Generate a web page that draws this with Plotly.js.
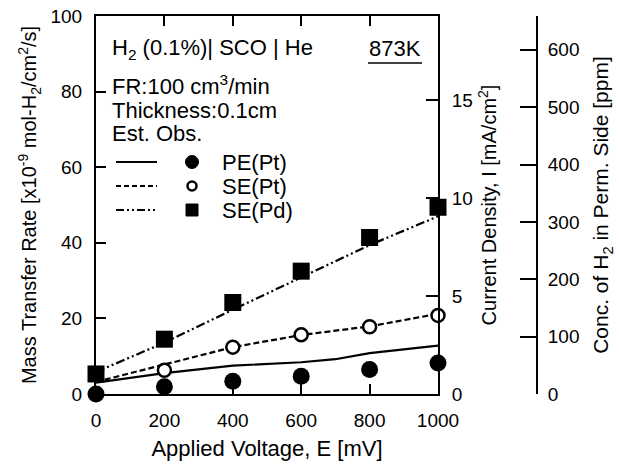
<!DOCTYPE html>
<html>
<head>
<meta charset="utf-8">
<script src="https://cdn.plot.ly/plotly-3.0.1.min.js"></script>
<style>html,body{margin:0;padding:0;background:#fff;}#chart{width:619px;height:466px;}</style>
</head>
<body>
<div id="chart"></div>
<script>
// ---- data ----
const voltage = [0, 200, 400, 600, 800, 1000];
const obsPEPt = [0.0, 1.9, 3.4, 4.7, 6.5, 8.2];
const obsSEPt = [0.0, 6.3, 12.4, 15.7, 17.8, 20.8];
const obsSEPd = [5.3, 14.5, 24.2, 32.5, 41.4, 49.4];
const estPEPtV = [0, 200, 400, 600, 700, 800, 1000];
const estPEPt = [3.0, 5.5, 7.5, 8.4, 9.2, 10.8, 12.8];
const estSEPt = [3.2, 7.8, 12.4, 15.6, 17.9, 21.2];
const estSEPd = [5.8, 13.6, 22.3, 30.8, 39.4, 47.0];
const xTicks = [0, 200, 400, 600, 800, 1000];
const legendLabels = ['PE(Pt)', 'SE(Pt)', 'SE(Pd)'];
const rateMax = 100;
const currentMax = 19.3;
const ppmMax = 659;

const FONT = 'Liberation Sans, Arial, Helvetica, sans-serif';
const W = 619, H = 466, ML = 96, MR = 82, MT = 16, MB = 72;
const PW = W - ML - MR, PH = H - MT - MB;
const px = p => (p - ML) / PW;
const py = p => (H - MB - p) / PH;
const plotRight = px(438);

const traces = [
  {x: estPEPtV, y: estPEPt, mode: 'lines', line: {color: '#000', width: 2.2}, cliponaxis: false},
  {x: voltage, y: estSEPt, mode: 'lines', line: {color: '#000', width: 2.2, dash: '6px,3px'}, cliponaxis: false},
  {x: voltage, y: estSEPd, mode: 'lines', line: {color: '#000', width: 2.2, dash: '9px,3px,2px,3px,2px,3px'}, cliponaxis: false},
  {x: voltage, y: obsSEPt, mode: 'markers', marker: {symbol: 'circle', size: 13, color: '#fff', line: {color: '#000', width: 2.5}}, cliponaxis: false},
  {x: voltage, y: obsPEPt, mode: 'markers', marker: {symbol: 'circle', size: 17, color: '#000'}, cliponaxis: false},
  {x: voltage, y: obsSEPd, mode: 'markers', marker: {symbol: 'square', size: 17, color: '#000'}, cliponaxis: false},
  // invisible companions so the secondary scales are drawn
  {x: voltage, y: obsSEPd.map(v => v * currentMax / rateMax), yaxis: 'y2', mode: 'markers', marker: {opacity: 0}, hoverinfo: 'skip'},
  {x: voltage, y: obsSEPd.map(v => v * ppmMax / rateMax), yaxis: 'y3', mode: 'markers', marker: {opacity: 0}, hoverinfo: 'skip'}
];

const legRows = [py(162), py(186), py(210)];
const shapes = [
  {type: 'line', xref: 'paper', yref: 'paper', x0: px(116), x1: px(157), y0: legRows[0], y1: legRows[0], line: {color: '#000', width: 2.2}},
  {type: 'line', xref: 'paper', yref: 'paper', x0: px(116), x1: px(157), y0: legRows[1], y1: legRows[1], line: {color: '#000', width: 2.2, dash: '5px,3px'}},
  {type: 'line', xref: 'paper', yref: 'paper', x0: px(116), x1: px(157), y0: legRows[2], y1: legRows[2], line: {color: '#000', width: 2.2, dash: '8px,3px,2px,3px,2px,3px'}},
  {type: 'circle', xref: 'paper', yref: 'paper', xsizemode: 'pixel', ysizemode: 'pixel', xanchor: px(192), yanchor: legRows[0], x0: -6.5, x1: 6.5, y0: -6.5, y1: 6.5, fillcolor: '#000', line: {color: '#000', width: 1}},
  {type: 'circle', xref: 'paper', yref: 'paper', xsizemode: 'pixel', ysizemode: 'pixel', xanchor: px(192), yanchor: legRows[1], x0: -4.5, x1: 4.5, y0: -4.5, y1: 4.5, fillcolor: '#fff', line: {color: '#000', width: 2.5}},
  {type: 'rect', xref: 'paper', yref: 'paper', xsizemode: 'pixel', ysizemode: 'pixel', xanchor: px(192), yanchor: legRows[2], x0: -6, x1: 6, y0: -6, y1: 6, fillcolor: '#000', line: {color: '#000', width: 1}},
  {type: 'line', xref: 'paper', yref: 'paper', x0: px(368), x1: px(422), y0: py(63), y1: py(63), line: {color: '#000', width: 1.5}}
];

const annFont = {family: FONT, size: 22, color: '#000'};
const ann = (text, x, y, xanchor) => ({text, x, y, xref: 'paper', yref: 'paper', xanchor: xanchor || 'left', yanchor: 'middle', showarrow: false, font: annFont});
const annotations = [
  ann('H<sub>2</sub> (0.1%)| SCO | He', px(110), py(49)),
  ann('873K', px(395), py(48), 'center'),
  ann('FR:100 cm<sup>3</sup>/min', px(110), py(85)),
  ann('Thickness:0.1cm', px(110), py(110)),
  ann('Est. Obs.', px(110), py(133)),
  ann(legendLabels[0], px(220), legRows[0]),
  ann(legendLabels[1], px(220), legRows[1]),
  ann(legendLabels[2], px(220), legRows[2])
];

const tickFont = {family: FONT, size: 19, color: '#000'};
const titleFont = {family: FONT, size: 20, color: '#000'};

const layout = {
  width: W, height: H,
  margin: {l: ML, r: MR, t: MT, b: MB, pad: 0},
  paper_bgcolor: '#fff', plot_bgcolor: '#fff',
  showlegend: false,
  font: {family: FONT, color: '#000'},
  xaxis: {
    domain: [0, plotRight], range: [0, 1000], tickvals: xTicks,
    ticks: 'inside', ticklen: 10, tickwidth: 2, tickcolor: '#000',
    showline: true, linewidth: 2, linecolor: '#000', mirror: 'ticks',
    showgrid: false, zeroline: false, tickfont: tickFont, ticklabelstandoff: 8,
    title: {text: 'Applied Voltage, E [mV]', font: {family: FONT, size: 22, color: '#000'}, standoff: 11}
  },
  yaxis: {
    range: [0, rateMax], dtick: 20,
    ticks: 'inside', ticklen: 10, tickwidth: 2, tickcolor: '#000',
    showline: true, linewidth: 2, linecolor: '#000',
    showgrid: false, zeroline: false, tickfont: tickFont, ticklabelstandoff: 8,
    title: {text: 'Mass Transfer Rate [x10<sup>-9</sup> mol-H<sub>2</sub>/cm<sup>2</sup>/s]', font: titleFont, standoff: 8}
  },
  yaxis2: {
    overlaying: 'y', side: 'right', anchor: 'x', range: [0, currentMax], dtick: 5,
    ticks: 'inside', ticklen: 12, tickwidth: 2, tickcolor: '#000',
    showline: true, linewidth: 2, linecolor: '#000',
    showgrid: false, zeroline: false, tickfont: tickFont, ticklabelstandoff: 8,
    title: {text: 'Current Density, I [mA/cm<sup>2</sup>]', font: titleFont, standoff: 10}
  },
  yaxis3: {
    overlaying: 'y', side: 'right', anchor: 'free', position: 1, range: [0, ppmMax], dtick: 100,
    ticks: 'inside', ticklen: 16, tickwidth: 2, tickcolor: '#000',
    showline: true, linewidth: 2, linecolor: '#000',
    showgrid: false, zeroline: false, tickfont: tickFont, ticklabelstandoff: 6,
    title: {text: 'Conc. of H<sub>2</sub> in Perm. Side [ppm]', font: {family: FONT, size: 21, color: '#000'}, standoff: 14}
  },
  shapes, annotations
};

Plotly.newPlot('chart', traces, layout, {staticPlot: true, displayModeBar: false});
</script>
</body>
</html>
